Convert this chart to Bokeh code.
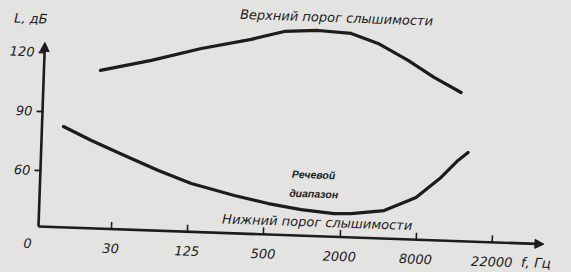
from bokeh.plotting import figure
from bokeh.models import Range1d, FixedTicker, Label, Arrow, NormalHead
from bokeh.embed import file_html
from bokeh.resources import INLINE

# Frequency axis: evenly spaced slots and their labels (Hz)
freq_slots = [1, 2, 3, 4, 5, 6]
freq_labels = ["30", "125", "500", "2000", "8000", "22000"]
level_ticks = [60, 90, 120]

# Upper threshold of hearing: slot position, sound level in dB
upper_x = [0.785, 1.448, 2.097, 2.747, 3.175, 3.620, 4.054, 4.411, 4.812, 5.160, 5.521]
upper_db = [111.8, 117.8, 124.7, 130.2, 134.8, 135.9, 135.0, 130.4, 122.3, 114.2, 107.0]

# Lower threshold of hearing
lower_x = [0.326, 0.699, 1.139, 1.590, 2.027, 2.597, 3.045, 3.479, 3.914, 4.136,
           4.567, 4.979, 5.297, 5.512, 5.640]
lower_db = [82.7, 76.1, 69.1, 62.1, 56.1, 50.8, 47.3, 44.8, 43.4, 43.7,
            45.8, 53.0, 63.6, 72.5, 76.7]

PAPER = "#e3e3e1"
INK = "#1c1c1c"
FONT = "DejaVu Sans"

W, H = 571, 272
LEFT, BOTTOM = 38, 46           # border left of / below the chart frame, px
X0 = 0.0576                     # slot value at the vertical axis
PX_X = 76.405                   # px per frequency slot
X1 = X0 + (W - LEFT) / PX_X
Y0, Y1 = 31.6, 146.2            # dB at the horizontal axis / at the top edge
PX_Y = (H - BOTTOM) / (Y1 - Y0)
X_TIP, Y_TIP = 6.677, 125.0     # where the axis arrows end

# the printed figure sits slightly askew on the page
tilt = ".bk-Canvas { transform: rotate(2deg); transform-origin: %dpx %dpx; }" % (LEFT, H - BOTTOM)

# ---- chart with axes and curves ----
p = figure(width=W, height=H, output_backend="svg", toolbar_location=None,
           x_range=Range1d(X0, X1), y_range=Range1d(Y0, Y1),
           min_border_left=LEFT, min_border_right=0, min_border_top=0,
           min_border_bottom=BOTTOM,
           background_fill_color=PAPER, border_fill_color=PAPER, outline_line_color=None,
           stylesheets=[tilt],
           styles={"overflow": "hidden", "background-color": PAPER})
p.grid.visible = False

xa = p.xaxis[0]
xa.ticker = FixedTicker(ticks=freq_slots)
xa.major_label_overrides = {s: l for s, l in zip(freq_slots, freq_labels)}
xa.axis_line_color = None
xa.major_tick_in = 7
xa.major_tick_out = 0
xa.major_tick_line_width = 1.6
xa.major_tick_line_color = INK
xa.minor_tick_line_color = None
xa.major_label_standoff = 15
xa.major_label_text_font = FONT
xa.major_label_text_font_style = "italic"
xa.major_label_text_font_size = "13px"
xa.major_label_text_color = INK

ya = p.yaxis[0]
ya.ticker = FixedTicker(ticks=level_ticks)
ya.axis_line_color = None
ya.major_tick_in = 0
ya.major_tick_out = 7
ya.major_tick_line_width = 1.6
ya.major_tick_line_color = INK
ya.minor_tick_line_color = None
ya.major_label_standoff = 4
ya.major_label_text_font = FONT
ya.major_label_text_font_style = "italic"
ya.major_label_text_font_size = "13px"
ya.major_label_text_color = INK

p.line(upper_x, upper_db, line_width=3.2, line_color=INK, line_join="round", line_cap="round")
p.line(lower_x, lower_db, line_width=3.2, line_color=INK, line_join="round", line_cap="round")

# ---- transparent layer laid over the whole page: axis arrows and captions ----
q = figure(width=W, height=H, output_backend="svg", toolbar_location=None,
           x_range=Range1d(X0 - LEFT / PX_X, X1), y_range=Range1d(Y0 - BOTTOM / PX_Y, Y1),
           x_axis_type=None, y_axis_type=None,
           min_border=0, min_border_left=0, min_border_right=0,
           min_border_top=0, min_border_bottom=0,
           background_fill_alpha=0, border_fill_alpha=0, outline_line_color=None,
           stylesheets=[tilt],
           styles={"position": "absolute", "top": "0px", "left": "0px", "overflow": "hidden"})
q.grid.visible = False

head_kw = dict(size=9, fill_color=INK, line_color=INK, line_width=1)
q.add_layout(Arrow(end=NormalHead(**head_kw), x_start=X0, y_start=Y0, x_end=X0, y_end=Y_TIP,
                   line_width=2.6, line_color=INK))
q.add_layout(Arrow(end=NormalHead(**head_kw), x_start=X0, y_start=Y0, x_end=X_TIP, y_end=Y0,
                   line_width=2.6, line_color=INK))


def note(x, y, text, size="13px", style="italic", font=FONT):
    q.add_layout(Label(x=x, y=y, text=text, text_font=font, text_font_style=style,
                       text_font_size=size, text_color=INK,
                       text_align="center", text_baseline="middle"))


note(3.861, 142.7, "Верхний порог слышимости")
note(3.633, 62.85, "Речевой", size="10.5px", style="bold italic", font="Liberation Sans")
note(3.643, 53.2, "диапазон", size="10.5px", style="bold italic", font="Liberation Sans")
note(3.702, 38.7, "Нижний порог слышимости")
note(-0.136, 136.9, "L, дБ")
note(-0.078, 22.8, "0")
note(6.580, 22.1, "f, Гц", size="13.5px")

open("out.html", "w").write(file_html([p, q], INLINE))
